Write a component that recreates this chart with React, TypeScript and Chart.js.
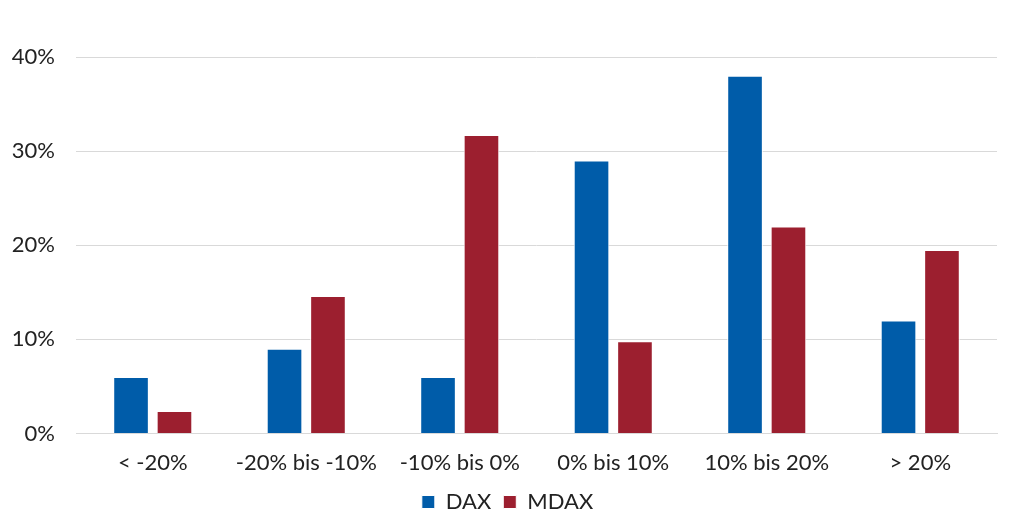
import React, { useEffect, useRef } from "react";
import { Chart, registerables } from "chart.js";

Chart.register(...registerables);

const categories = ["< -20%", "-20% bis -10%", "-10% bis 0%", "0% bis 10%", "10% bis 20%", "> 20%"];
const daxValues = [6, 9, 6, 29, 38, 12];
const mdaxValues = [2.4, 14.6, 31.7, 9.8, 22, 19.5];
const yTicks = [0, 10, 20, 30, 40];

const FONT = "Lato, 'Open Sans', sans-serif";
const TEXT = "#222222";

export default function App() {
  const ref = useRef<HTMLCanvasElement | null>(null);
  useEffect(() => {
    if (!ref.current) return;
    const chart = new Chart(ref.current, {
      type: "bar",
      data: {
        labels: categories,
        datasets: [
          {
            label: "DAX",
            data: daxValues,
            backgroundColor: "#005CA9",
            borderColor: "#ffffff",
            borderWidth: 1,
            categoryPercentage: 0.566,
            barPercentage: 0.82,
            yAxisID: "y",
          },
          {
            label: "MDAX",
            data: mdaxValues,
            backgroundColor: "#9C1F2F",
            borderColor: "#ffffff",
            borderWidth: 1,
            categoryPercentage: 0.566,
            barPercentage: 0.82,
            yAxisID: "y",
          },
        ],
      },
      options: {
        animation: false,
        responsive: true,
        maintainAspectRatio: false,
        layout: { padding: { top: 57, right: 0, left: 0, bottom: 0 } },
        plugins: {
          legend: {
            position: "bottom",
            maxHeight: 37,
            labels: {
              boxWidth: 13,
              boxHeight: 13,
              padding: 12,
              color: TEXT,
              font: { family: FONT, size: 22 },
            },
          },
          tooltip: { enabled: false },
        },
        scales: {
          x: {
            grid: { display: false, drawTicks: false },
            border: { display: true, color: "#d9d9d9", width: 1 },
            afterFit: (axis: any) => {
              axis.height = 45.5;
            },
            ticks: {
              color: TEXT,
              padding: 16,
              font: { family: FONT, size: 22 },
              maxRotation: 0,
            },
          },
          y: {
            min: 0,
            max: 40,
            afterBuildTicks: (axis: any) => {
              axis.ticks = yTicks.map((v) => ({ value: v }));
            },
            afterFit: (axis: any) => {
              axis.width = 76;
            },
            grid: { color: "#d9d9d9", drawTicks: false },
            border: { display: false },
            ticks: {
              color: TEXT,
              padding: 21,
              font: { family: FONT, size: 22 },
              callback: (v: any) => `${v}%`,
            },
          },
          yRight: {
            position: "right",
            display: true,
            grid: { display: false, drawTicks: false },
            border: { display: false },
            ticks: { display: false },
            afterFit: (axis: any) => {
              axis.width = 18;
            },
          },
        },
      },
    });
    return () => chart.destroy();
  }, []);
  return (
    <div style={{ position: "fixed", left: 0, top: 0, width: 1015, height: 516, background: "#fff" }}>
      <canvas ref={ref} />
    </div>
  );
}
